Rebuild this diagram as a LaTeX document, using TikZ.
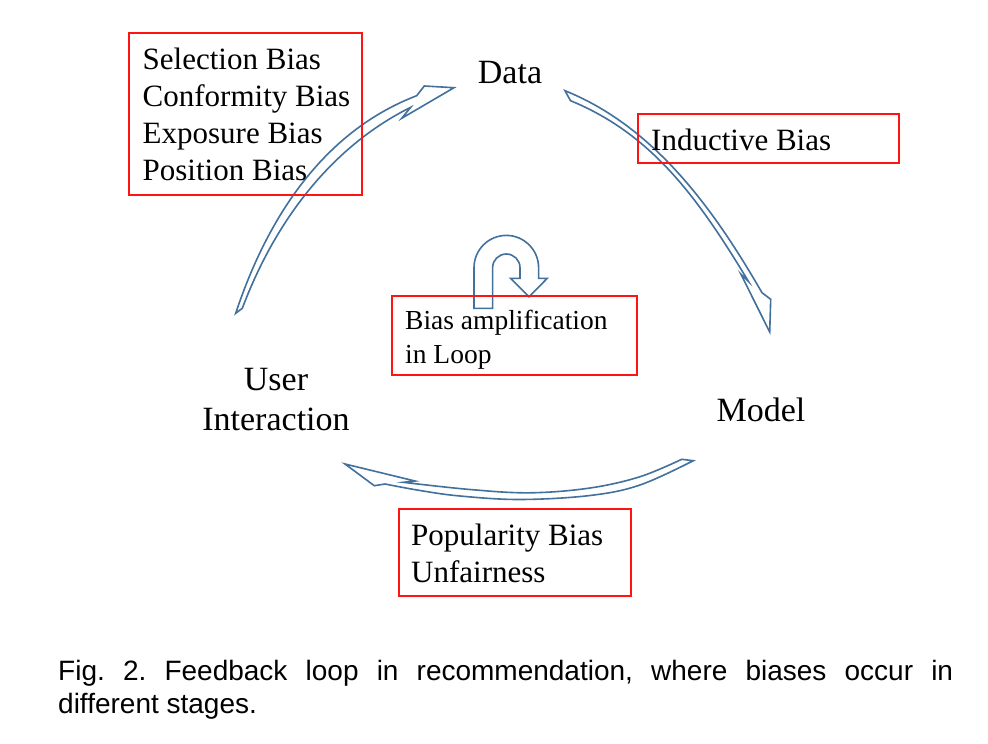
\documentclass[tikz,border=0pt]{standalone}
\usepackage{fontspec}
\setmainfont{Liberation Serif}
\newfontfamily\capfont{Liberation Sans}
\definecolor{arrowblue}{RGB}{65,113,156}
\definecolor{boxred}{RGB}{255,20,20}
\frenchspacing
\begin{document}
\begin{tikzpicture}[x=1pt,y=-1pt,
  blockarrow/.style={draw=arrowblue, line width=1.6pt, line join=miter},
  biasbox/.style={draw=boxred, line width=1.1pt, inner sep=0pt},
  boxtext/.style={anchor=base west, inner sep=0pt, font=\fontsize{31}{37}\selectfont},
  smalltext/.style={anchor=base west, inner sep=0pt, font=\fontsize{27.5}{34}\selectfont},
  stage/.style={anchor=base, inner sep=0pt, font=\fontsize{34}{41}\selectfont},
  captext/.style={anchor=base west, inner sep=0pt, font=\capfont\fontsize{28}{33}\selectfont}]
\fill[white] (0,0) rectangle (988,744);
\useasboundingbox (0,0) rectangle (988,744);

% stage labels
\node[stage] (data) at (510,83.5) {Data};
\node[stage] (user) at (276,390) {User};
\node[stage] (interaction) at (276,430) {Interaction};
\node[stage] (model) at (761,421) {Model};

% curved block arrow: user interaction -> data
\draw[blockarrow] (235.7,313.3) .. controls (266.7,219.7) and (322,132) .. (416.7,95.7)
  -- (424.3,86) -- (454,87.7) -- (401.7,118.3) -- (410.7,107.3)
  .. controls (329,148) and (274,224.1) .. (242.3,308.3) -- cycle;

% curved block arrow: data -> model
\draw[blockarrow] (565,90.7) .. controls (654.6,126.9) and (713.7,209) .. (762,292.7)
  -- (770.7,299.3) -- (769.7,332) -- (740.8,274) -- (748.5,281.5)
  .. controls (698.3,198.3) and (652,134) .. (570.5,100.7) -- cycle;

% curved block arrow: model -> user interaction
\draw[blockarrow] plot[smooth, tension=0.6] coordinates
  {(681.7,459.3) (640,476.7) (590,488) (530,492.8) (470,489.5) (403.3,482.3)}
  -- (415,481) -- (345,464) -- (374.3,485.7)
  -- plot[smooth, tension=0.6] coordinates
  {(385,484) (420,490.5) (460,496) (520,499.5) (590,495.5) (640,485) (693.3,460.7)}
  -- cycle;

% U-turn arrow for the amplification loop
\draw[blockarrow] (474,308.3) -- (474,267.7)
  .. controls (474,249.86) and (488.46,235.4) .. (506.3,235.4)
  .. controls (524.14,235.4) and (538.6,249.86) .. (538.6,267.7)
  -- (538.6,278.3) -- (547.3,278.3) -- (529,296.7) -- (510.5,278.3) -- (520,278.3)
  -- (520,267.7)
  .. controls (520,260.13) and (513.87,254) .. (506.3,254)
  .. controls (498.73,254) and (492.6,260.13) .. (492.6,267.7)
  -- (492.6,308.3) -- cycle;

% bias boxes
\node[biasbox, minimum width=233pt, minimum height=162pt] (selbox) at (245.5,114) {};
\node[boxtext] (sel1) at (142.5,69.3) {Selection Bias};
\node[boxtext] (sel2) at (142.5,106.5) {Conformity Bias};
\node[boxtext] (sel3) at (142.5,143.3) {Exposure Bias};
\node[boxtext] (sel4) at (142.5,180) {Position Bias};

\node[biasbox, minimum width=261pt, minimum height=49pt] (indbox) at (768.5,138.5) {};
\node[boxtext] (ind1) at (651,150) {Inductive Bias};

\node[biasbox, minimum width=245pt, minimum height=79pt] (ampbox) at (514.5,335.5) {};
\node[smalltext] (amp1) at (405,329) {Bias amplification};
\node[smalltext] (amp2) at (405,363) {in Loop};

\node[biasbox, minimum width=232pt, minimum height=87pt] (popbox) at (515,552.5) {};
\node[boxtext] (pop1) at (411,545) {Popularity Bias};
\node[boxtext] (pop2) at (411,582) {Unfairness};

% caption
\node[captext] (cap1) at (58,680) {\makebox[895pt][s]{Fig. 2. Feedback loop in recommendation, where biases occur in}};
\node[captext] (cap2) at (58,713) {different stages.};
\end{tikzpicture}
\end{document}
